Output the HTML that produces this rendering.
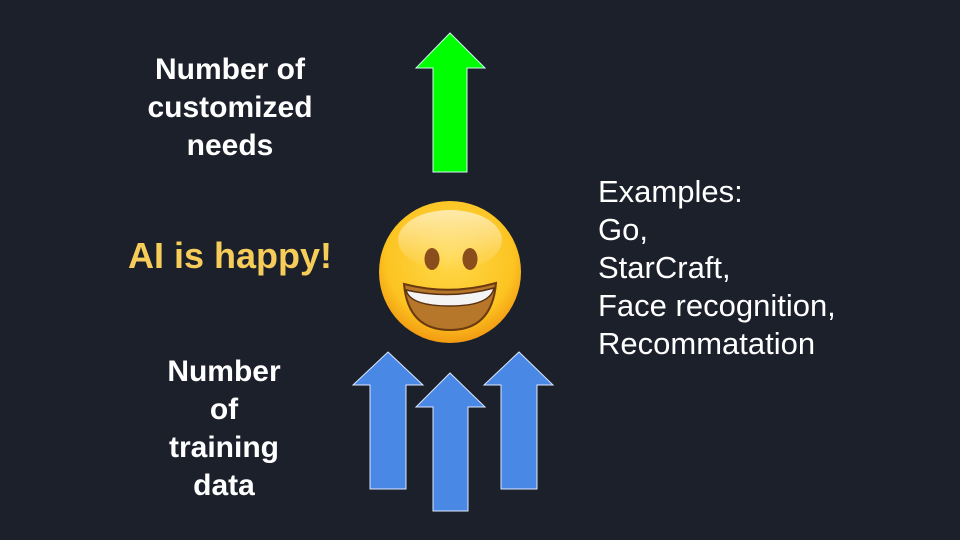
<!DOCTYPE html>
<html><head><style>
html,body{margin:0;padding:0;}
body{width:960px;height:540px;background:#1c202b;position:relative;overflow:hidden;font-family:"Liberation Sans",sans-serif;}
.t{position:absolute;color:#fff;font-weight:bold;font-size:30px;text-align:center;line-height:38px;}
</style></head><body>
<div class="t" style="left:100px;width:260px;top:51px;">Number of<br>customized<br>needs</div>
<div class="t" style="left:100px;width:260px;top:235px;color:#f7cd5a;font-size:36px;line-height:42px;">AI is happy!</div>
<div class="t" style="left:94px;width:260px;top:353px;">Number<br>of<br>training<br>data</div>
<div class="t" style="left:598px;top:173px;text-align:left;font-weight:normal;font-size:31px;white-space:nowrap;">Examples:<br>Go,<br>StarCraft,<br>Face recognition,<br>Recommatation</div>
<svg width="960" height="540" style="position:absolute;left:0;top:0">
<defs>
<radialGradient id="f" cx="50%" cy="40%" r="60%">
<stop offset="0" stop-color="#ffd84a"/><stop offset="0.75" stop-color="#fcc421"/><stop offset="1" stop-color="#f29a12"/></radialGradient>
<linearGradient id="sh" x1="0" y1="0" x2="0" y2="1"><stop offset="0" stop-color="#fff" stop-opacity="0.6"/><stop offset="1" stop-color="#fff" stop-opacity="0"/></linearGradient>
</defs>
<polygon points="450,33 485,68 467,68 467,172 433,172 433,68 416,68" fill="#00ff00" stroke="#cfe" stroke-width="1"/>
<g fill="#4a88e6" stroke="#dde8ff" stroke-width="1">
<polygon points="388,352 423,385 406,385 406,489 370,489 370,385 353,385"/>
<polygon points="450,373 485,407 468,407 468,511 433,511 433,407 416,407"/>
<polygon points="519,352 553,385 537,385 537,489 501,489 501,385 484,385"/>
</g>
<circle cx="450" cy="272" r="71" fill="url(#f)"/>
<ellipse cx="450" cy="240" rx="52" ry="30" fill="url(#sh)"/>
<ellipse cx="432" cy="259" rx="7.5" ry="11" fill="#8a4d1c"/>
<ellipse cx="470" cy="259" rx="7.5" ry="11" fill="#8a4d1c"/>
<path d="M404,284 Q450,296 496,283 Q492,330 450,330 Q408,330 404,284Z" fill="#b7772a" stroke="#6b3a10" stroke-width="2"/>
<path d="M406,290 Q450,300 494,288 Q490,306 450,306 Q410,306 406,290Z" fill="#f4f4f4" stroke="#5a3010" stroke-width="1.5"/>
</svg>
</body></html>
